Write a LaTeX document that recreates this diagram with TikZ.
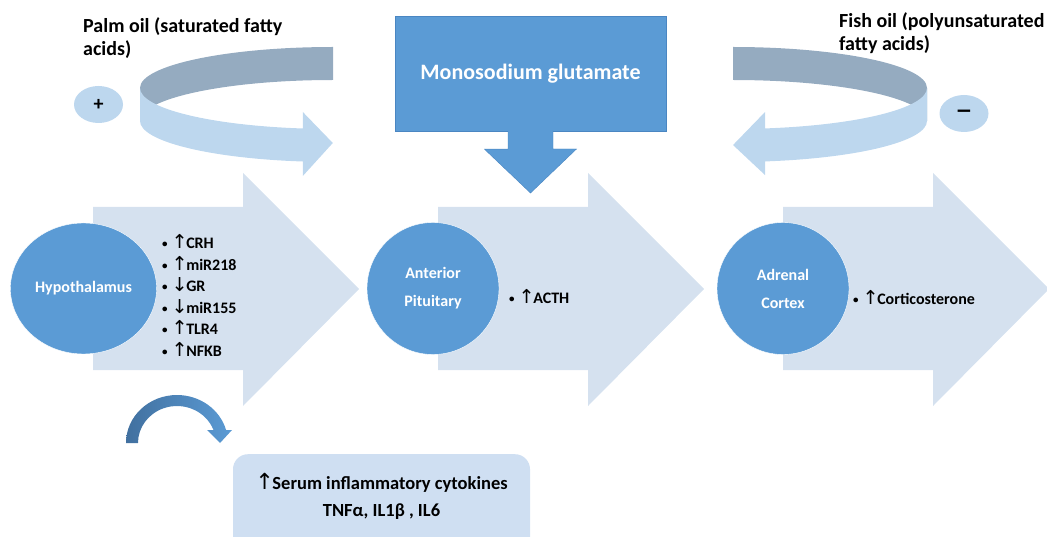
\documentclass[tikz,border=0pt]{standalone}
\usepackage{fontspec}
\setmainfont{Carlito}
\newfontfamily\arrowfont{DejaVu Sans}
\usetikzlibrary{shapes.geometric}

\definecolor{paleblue}{HTML}{D5E1EF}
\definecolor{midblue}{HTML}{5B9BD5}
\definecolor{edgeblue}{HTML}{4A86C2}
\definecolor{lightblue}{HTML}{BDD7EE}
\definecolor{slateblue}{HTML}{95ABC0}
\definecolor{deepblue}{HTML}{41709F}
\definecolor{boxblue}{HTML}{CFDFF2}

\newcommand{\arrup}{{\arrowfont\mdseries\fontsize{1.2em}{0pt}\selectfont ↑}\hspace{-1.5pt}}
\newcommand{\arrdn}{{\arrowfont\mdseries\fontsize{1.2em}{0pt}\selectfont ↓}\hspace{-1.5pt}}
\newcommand{\itm}{\raisebox{1pt}{\fontsize{11}{11}\selectfont•}\hspace{4pt}}

\begin{document}
\begin{tikzpicture}[x=1pt,y=-1pt,
    organ/.style={circle,fill=midblue,draw=white,thin,text=white,minimum size=132pt,align=center,font=\fontsize{16}{28}\selectfont\bfseries},
    effects/.style={anchor=west,align=left,inner sep=0pt,font=\fontsize{16}{21.5}\selectfont\bfseries},
    fat/.style={anchor=north west,align=left,inner sep=0pt,font=\fontsize{20}{23}\selectfont\bfseries},
    sign/.style={ellipse,fill=lightblue,minimum width=49pt,minimum height=37pt,inner sep=0pt,font=\fontsize{20}{20}\selectfont\bfseries}]
        \useasboundingbox (0,0) rectangle (1047,537);

        % 1. Block arrows along the axis
        \foreach \x in {93,438,783}
            \fill[paleblue] (\x,207) -- ++(150,0) -- ++(0,-34) -- ++(116,116) -- ++(-116,117) -- ++(0,-36) -- ++(-150,0) -- cycle;

        % 2. Organs
        \node (hyp) at (83.5,288.5) [organ,ellipse,minimum width=143pt,minimum height=131pt] {Hypothalamus};
        \node (pit) [organ, right of = hyp, node distance = 349.5pt] {Anterior\\Pituitary};
        \node (adr) [organ, right of = pit, node distance = 350pt] {Adrenal\\Cortex};

        % Effects at each level
        \node (hyplist) at (162,295.5) [effects] {\itm\arrup CRH\\\itm\arrup miR218\\\itm\arrdn GR\\\itm\arrdn miR155\\\itm\arrup TLR4\\\itm\arrup NFKB};
        \node (pitlist) at (509,297) [effects] {\itm\arrup ACTH};
        \node (adrlist) at (853,298) [effects] {\itm\arrup Corticosterone};

        % 3. Monosodium glutamate box and its arrow
        \node (msg) at (530.5,73.5) [minimum width=271pt,minimum height=115pt,fill=midblue,draw=edgeblue,text=white,font=\fontsize{22}{26}\selectfont\bfseries] {Monosodium glutamate};
        \coordinate (msgtip) at (530.5,193);
        \draw[fill=midblue,draw=edgeblue] ([xshift=-22.5pt]msg.south) -- ++(0,18) -- ++(-23.5,0) -- (msgtip) -- ++(46,-44) -- ++(-23.5,0) -- ++(0,-18);

        % 4. Dietary fats
        \node (palm) at (83,17) [fat] {Palm oil (saturated fatty\\acids)};
        \node (fish) at (839,12) [fat] {Fish oil (polyunsaturated\\fatty acids)};
        \node (plus) at (98.5,104.5) [sign] {+};
        \node (minus) at (964,113.5) [sign] {{\arrowfont\bfseries −}};

        % Left ribbon: back, then front with head
        \fill[slateblue] (333,47) arc[start angle=270,end angle=180,x radius=193,y radius=41] -- ++(0,33) arc[start angle=180,end angle=270,x radius=193,y radius=41] -- cycle;
        \fill[lightblue] (140,88) arc[start angle=180,end angle=99,x radius=193,y radius=41] -- ++(0,-16.5) -- ++(30,31) -- ++(-30,33) -- ++(0,-14.5) arc[start angle=99,end angle=180,x radius=193,y radius=41] -- cycle;

        % Right ribbon: mirrored
        \fill[slateblue] (733,47) arc[start angle=270,end angle=360,x radius=194,y radius=41] -- ++(0,33) arc[start angle=360,end angle=270,x radius=194,y radius=41] -- cycle;
        \fill[lightblue] (927,88) arc[start angle=0,end angle=80.5,x radius=194,y radius=41] -- ++(0,-16.4) -- ++(-32,33) -- ++(32,30) -- ++(0,-13.6) arc[start angle=80.5,end angle=0,x radius=194,y radius=41] -- cycle;

        % 5. Serum cytokines
        \node (cytobox) at (381.5,454) [anchor=north,rounded corners=15pt,fill=boxblue,minimum width=297pt,minimum height=110pt] {};
        \node (cyto) at (381.5,496) [align=center,font=\fontsize{18.5}{27}\selectfont\bfseries] {\arrup Serum inflammatory cytokines\\TNFα, IL1β , IL6};

        % small curved arrow towards the cytokines
        \shade[left color=deepblue,right color=midblue] (126,443) arc[start angle=180,end angle=344.3,x radius=51,y radius=48] -- (232,430) -- (220,443) -- (207,430) -- (213.5,430) arc[start angle=339.4,end angle=180,x radius=39,y radius=37] -- cycle;

    \end{tikzpicture}
\end{document}
